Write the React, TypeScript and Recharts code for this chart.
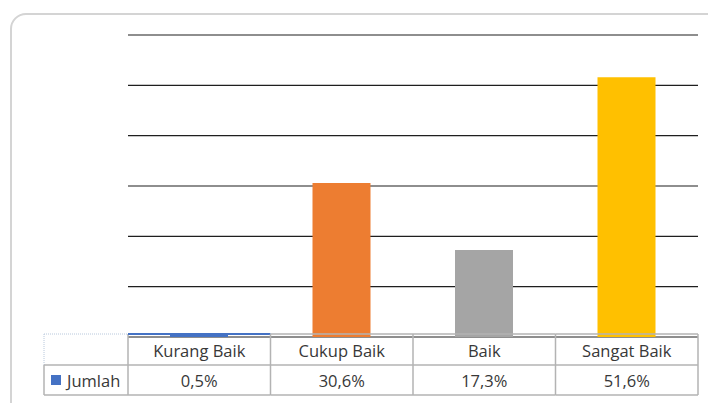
import React from 'react';
import { BarChart, Bar, XAxis, YAxis, CartesianGrid, Cell } from 'recharts';

// chart values
const categories = ['Kurang Baik', 'Cukup Baik', 'Baik', 'Sangat Baik'];
const jumlah = [0.5, 30.6, 17.3, 51.6];
const colors = ['#4472C4', '#ED7D31', '#A5A5A5', '#FFC000'];
const yTicks = [10, 20, 30, 40, 50, 60];
const seriesName = 'Jumlah';

const data = categories.map((name, i) => ({ name, value: jumlah[i] }));

const fmt = (v: number) => v.toFixed(1).replace('.', ',') + '%';

const W = 708;
const H = 403;
const PLOT_LEFT = 128;
const PLOT_RIGHT = 698;
const TABLE_TOP = 334;
const ROW_MID = 365;
const TABLE_BOTTOM = 395;
const LINE = '#b3b3b3';
const TEXT = '#383838';
const FONT = '"Open Sans", sans-serif';
const FS = 16.5;

function TableTick(props: any) {
  const { x, index } = props;
  const cellW = (PLOT_RIGHT - PLOT_LEFT) / categories.length;
  const left = x - cellW / 2;
  const right = x + cellW / 2;
  return (
    <g>
      {index === 0 && (
        <g>
          {/* row header column */}
          <line x1={44} y1={TABLE_TOP} x2={PLOT_LEFT} y2={TABLE_TOP} stroke="#b8c8dc" strokeWidth={1} strokeDasharray="1 1" />
          <line x1={44} y1={TABLE_TOP} x2={44} y2={ROW_MID} stroke="#b8c8dc" strokeWidth={1} strokeDasharray="1 1" />
          <line x1={44} y1={ROW_MID} x2={PLOT_LEFT} y2={ROW_MID} stroke={LINE} strokeWidth={1.5} />
          <line x1={44} y1={ROW_MID} x2={44} y2={TABLE_BOTTOM} stroke={LINE} strokeWidth={1.5} />
          <line x1={44} y1={TABLE_BOTTOM} x2={PLOT_LEFT} y2={TABLE_BOTTOM} stroke={LINE} strokeWidth={1.5} />
          <rect x={51} y={375} width={10} height={10} fill={colors[0]} />
          <text x={67} y={387} fontSize={FS} fontFamily={FONT} fill={TEXT}>{seriesName}</text>
          <line x1={left} y1={TABLE_TOP} x2={left} y2={TABLE_BOTTOM} stroke={LINE} strokeWidth={1.5} />
        </g>
      )}
      <line x1={left} y1={TABLE_TOP} x2={right} y2={TABLE_TOP} stroke={index === 0 ? colors[0] : LINE} strokeWidth={index === 0 ? 2 : 1.5} />
      <line x1={left} y1={ROW_MID} x2={right} y2={ROW_MID} stroke={LINE} strokeWidth={1.5} />
      <line x1={left} y1={TABLE_BOTTOM} x2={right} y2={TABLE_BOTTOM} stroke={LINE} strokeWidth={1.5} />
      <line x1={right} y1={TABLE_TOP} x2={right} y2={TABLE_BOTTOM} stroke={LINE} strokeWidth={1.5} />
      <text x={x} y={357} textAnchor="middle" fontSize={FS} fontFamily={FONT} fill={TEXT}>
        {categories[index]}
      </text>
      <text x={x} y={387} textAnchor="middle" fontSize={FS} fontFamily={FONT} fill={TEXT}>
        {fmt(jumlah[index])}
      </text>
    </g>
  );
}

export default function App() {
  return (
    <div style={{ position: 'absolute', left: 0, top: 0, width: W, height: H, overflow: 'hidden', background: '#fff' }}>
      <div
        style={{
          position: 'absolute',
          left: 10,
          top: 13,
          width: W + 20,
          height: H + 20,
          border: '2px solid #d4d4d4',
          borderRadius: 16,
          boxSizing: 'border-box',
        }}
      />
      <div style={{ position: 'absolute', left: 0, top: 0 }}>
        <BarChart
          width={W}
          height={H}
          data={data}
          margin={{ top: 35, right: W - PLOT_RIGHT, bottom: 0, left: PLOT_LEFT }}
          barCategoryGap={0}
        >
          <CartesianGrid vertical={false} stroke="#1f1f1f" strokeWidth={1.2} />
          <XAxis
            dataKey="name"
            height={H - 337}
            axisLine={false}
            tickLine={false}
            interval={0}
            tick={<TableTick />}
          />
          <YAxis hide domain={[0, 60]} ticks={yTicks} />
          <Bar dataKey="value" barSize={58} isAnimationActive={false}>
            {data.map((d, i) => (
              <Cell key={d.name} fill={colors[i]} />
            ))}
          </Bar>
        </BarChart>
      </div>
    </div>
  );
}
